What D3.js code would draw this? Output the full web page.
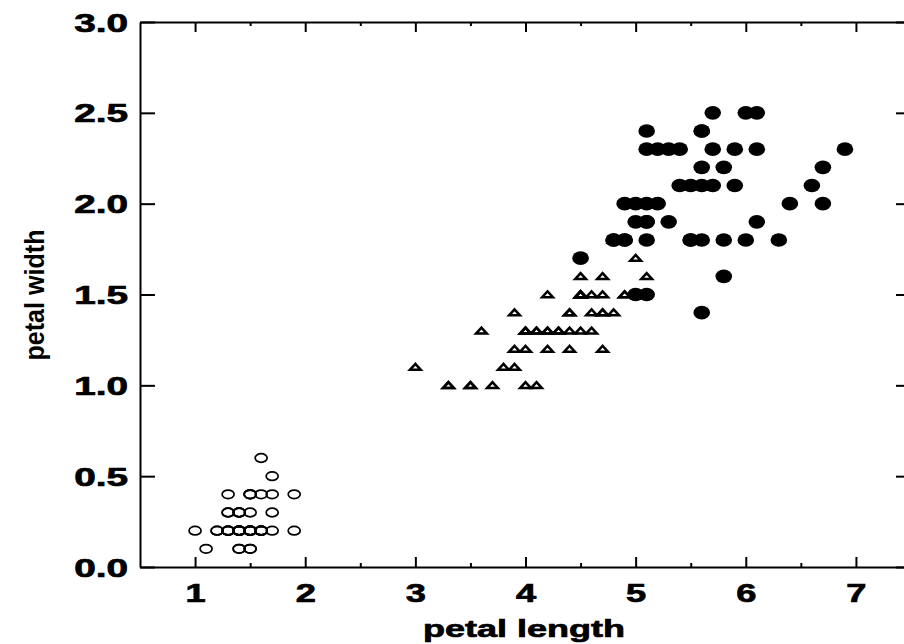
<!DOCTYPE html>
<html>
<head>
<meta charset="utf-8">
<style>
body { margin: 0; background: #fff; }
svg { display: block; }
text { font-family: "Liberation Sans", Arial, sans-serif; font-weight: bold; fill: #000; }
.axis path, .axis line { stroke: #000; stroke-width: 2; }
.axis text, .title { stroke: #000; stroke-width: 0.7px; }
</style>
</head>
<body>
<svg id="chart" width="904" height="644"></svg>
<script src="https://cdn.jsdelivr.net/npm/d3@7"></script>
<script>
// iris petal measurements, one pair of arrays per species
var setosaLength = [1.4,1.4,1.3,1.5,1.4,1.7,1.4,1.5,1.4,1.5,1.5,1.6,1.4,1.1,1.2,1.5,1.3,1.4,1.7,1.5,
  1.7,1.5,1.0,1.7,1.9,1.6,1.6,1.5,1.4,1.6,1.6,1.5,1.5,1.4,1.5,1.2,1.3,1.4,1.3,1.5,
  1.3,1.3,1.3,1.6,1.9,1.4,1.6,1.4,1.5,1.4];
var setosaWidth = [0.2,0.2,0.2,0.2,0.2,0.4,0.3,0.2,0.2,0.1,0.2,0.2,0.1,0.1,0.2,0.4,0.4,0.3,0.3,0.3,
  0.2,0.4,0.2,0.5,0.2,0.2,0.4,0.2,0.2,0.2,0.2,0.4,0.1,0.2,0.2,0.2,0.2,0.1,0.2,0.2,
  0.3,0.3,0.2,0.6,0.4,0.3,0.2,0.2,0.2,0.2];
var versicolorLength = [4.7,4.5,4.9,4.0,4.6,4.5,4.7,3.3,4.6,3.9,3.5,4.2,4.0,4.7,3.6,4.4,4.5,4.1,4.5,3.9,
  4.8,4.0,4.9,4.7,4.3,4.4,4.8,5.0,4.5,3.5,3.8,3.7,3.9,5.1,4.5,4.5,4.7,4.4,4.1,4.0,
  4.4,4.6,4.0,3.3,4.2,4.2,4.2,4.3,3.0,4.1];
var versicolorWidth = [1.4,1.5,1.5,1.3,1.5,1.3,1.6,1.0,1.3,1.4,1.0,1.5,1.0,1.4,1.3,1.4,1.5,1.0,1.5,1.1,
  1.8,1.3,1.5,1.2,1.3,1.4,1.4,1.7,1.5,1.0,1.1,1.0,1.2,1.6,1.5,1.6,1.5,1.3,1.3,1.3,
  1.2,1.4,1.2,1.0,1.3,1.2,1.3,1.3,1.1,1.3];
var virginicaLength = [6.0,5.1,5.9,5.6,5.8,6.6,4.5,6.3,5.8,6.1,5.1,5.3,5.5,5.0,5.1,5.3,5.5,6.7,6.9,5.0,
  5.7,4.9,6.7,4.9,5.7,6.0,4.8,4.9,5.6,5.8,6.1,6.4,5.6,5.1,5.6,6.1,5.6,5.5,4.8,5.4,
  5.6,5.1,5.1,5.9,5.7,5.2,5.0,5.2,5.4,5.1];
var virginicaWidth = [2.5,1.9,2.1,1.8,2.2,2.1,1.7,1.8,1.8,2.5,2.0,1.9,2.1,2.0,2.4,2.3,1.8,2.2,2.3,1.5,
  2.3,2.0,2.0,1.8,2.1,1.8,1.8,1.8,2.1,1.6,1.9,2.0,2.2,1.5,1.4,2.3,2.4,1.8,1.8,2.1,
  2.4,2.3,1.9,2.3,2.5,2.3,1.9,2.0,2.3,1.8];

var xTicks = [1, 2, 3, 4, 5, 6, 7];
var xMinor = [1.5, 2.5, 3.5, 4.5, 5.5, 6.5];
var yTicks = [0, 0.5, 1.0, 1.5, 2.0, 2.5, 3.0];

var svg = d3.select("#chart");
var plotLeft = 140, plotRight = 911, plotTop = 22, plotBottom = 567;

var x = d3.scaleLinear().domain([0.5, 7.5]).range([plotLeft, plotRight]);
var y = d3.scaleLinear().domain([0, 3]).range([plotBottom, plotTop]);

function pairs(a, b) { return a.map(function(v, i) { return [v, b[i]]; }); }

// frame: bottom / top / left / right
var xb = svg.append("g").attr("class", "axis")
    .attr("transform", "translate(0," + plotBottom + ")")
    .call(d3.axisBottom(x).tickValues(xTicks).tickSizeInner(-10).tickSizeOuter(0).tickFormat(d3.format("d")));
xb.selectAll("text")
    .attr("y", 0).attr("dy", 0)
    .attr("transform", "translate(0,35) scale(1.45,1)")
    .style("font-size", "25px");
svg.append("g").attr("class", "axis")
    .attr("transform", "translate(0," + plotBottom + ")")
    .call(d3.axisBottom(x).tickValues(xMinor).tickSizeInner(-4).tickSizeOuter(0).tickFormat(""))
    .select(".domain").remove();

svg.append("g").attr("class", "axis")
    .attr("transform", "translate(0," + plotTop + ")")
    .call(d3.axisTop(x).tickValues(xTicks).tickSizeInner(-10).tickSizeOuter(0).tickFormat(""));
svg.append("g").attr("class", "axis")
    .attr("transform", "translate(0," + plotTop + ")")
    .call(d3.axisTop(x).tickValues(xMinor).tickSizeInner(-4).tickSizeOuter(0).tickFormat(""))
    .select(".domain").remove();

var yl = svg.append("g").attr("class", "axis")
    .attr("transform", "translate(" + plotLeft + ",0)")
    .call(d3.axisLeft(y).tickValues(yTicks).tickSizeInner(-15).tickSizeOuter(0).tickFormat(d3.format(".1f")));
yl.selectAll("text")
    .attr("x", 0).attr("dy", "0.36em")
    .attr("transform", "translate(-12,0) scale(1.55,1)")
    .style("font-size", "25px");

svg.append("g").attr("class", "axis")
    .attr("transform", "translate(" + plotRight + ",0)")
    .call(d3.axisRight(y).tickValues(yTicks).tickSizeInner(-15).tickSizeOuter(0).tickFormat(""));

// axis titles
svg.append("text")
    .attr("class", "title")
    .attr("text-anchor", "middle")
    .attr("transform", "translate(524,637) scale(1.5,1)")
    .style("font-size", "24px")
    .text("petal length");

svg.append("text")
    .attr("text-anchor", "middle")
    .attr("transform", "translate(44,295) rotate(-90) scale(0.93,1)")
    .style("font-size", "27px")
    .text("petal width");

// points
svg.append("g").selectAll("ellipse")
    .data(pairs(setosaLength, setosaWidth))
    .join("ellipse")
    .attr("cx", function(d) { return x(d[0]); })
    .attr("cy", function(d) { return y(d[1]); })
    .attr("rx", 6)
    .attr("ry", 4.3)
    .attr("fill", "none")
    .attr("stroke", "#000")
    .attr("stroke-width", 1.7);

svg.append("g").selectAll("path")
    .data(pairs(versicolorLength, versicolorWidth))
    .join("path")
    .attr("transform", function(d) { return "translate(" + x(d[0]) + "," + y(d[1]) + ")"; })
    .attr("d", "M0,-3.2L5.4,2.7L-5.4,2.7Z")
    .attr("fill", "none")
    .attr("stroke", "#000")
    .attr("stroke-width", 2.5)
    .attr("stroke-linejoin", "miter");

svg.append("g").selectAll("ellipse")
    .data(pairs(virginicaLength, virginicaWidth))
    .join("ellipse")
    .attr("cx", function(d) { return x(d[0]); })
    .attr("cy", function(d) { return y(d[1]); })
    .attr("rx", 8.3)
    .attr("ry", 6.8)
    .attr("fill", "#000");
</script>
</body>
</html>
